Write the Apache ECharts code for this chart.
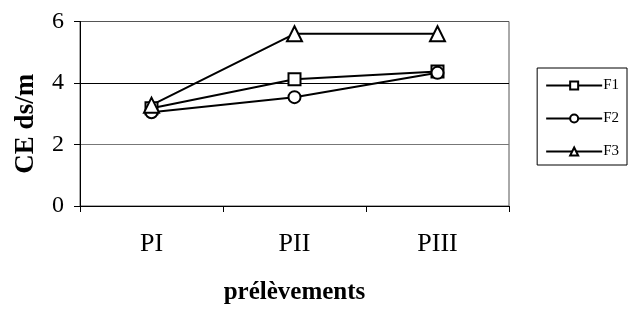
<!DOCTYPE html>
<html><head><meta charset="utf-8">
<script src="https://cdn.jsdelivr.net/npm/echarts@6/dist/echarts.min.js"></script>
<style>html,body{margin:0;padding:0;background:#fff}#c{width:633px;height:309px}</style>
</head><body><div id="c"></div>
<script>
const categories = ['PI', 'PII', 'PIII'];
const seriesNames = ['F1', 'F2', 'F3'];
const F1 = [3.18, 4.12, 4.37];
const F2 = [3.05, 3.54, 4.33];
const F3 = [3.28, 5.6, 5.6];
const yTicks = [0, 2, 4, 6];

const font = '"Liberation Serif", "Times New Roman", serif';
const chart = echarts.init(document.getElementById('c'), null, {renderer: 'canvas'});
const mk = (name, data, symbol, size) => ({
  name, type: 'line', data, symbol, symbolSize: size, showSymbol: true,
  lineStyle: {color: '#000', width: 2},
  itemStyle: {color: '#fff', borderColor: '#000', borderWidth: 2},
  emphasis: {disabled: true}, animation: false
});
chart.setOption({
  animation: false,
  grid: {left: 80, right: 124, top: 21.5, bottom: 103, show: true, borderColor: '#555', borderWidth: 1,
         containLabel: false, outerBoundsMode: 'none'},
  legend: {
    orient: 'vertical', right: 6, top: 68, width: 94,
    padding: [10, 8, 6, 8], itemGap: 18,
    borderColor: '#000', borderWidth: 1,
    itemWidth: 56, itemHeight: 10,
    textStyle: {fontFamily: font, fontSize: 15, color: '#000', padding: [0, 8, 0, -4]},
    data: seriesNames
  },
  xAxis: {
    type: 'category', data: categories, boundaryGap: true,
    name: 'prélèvements', nameLocation: 'middle', nameGap: 74,
    nameTextStyle: {fontFamily: font, fontSize: 25, fontWeight: 'bold', color: '#000'},
    axisLine: {lineStyle: {color: '#000', width: 1}},
    axisTick: {show: true, length: 6, inside: false, lineStyle: {color: '#000'}},
    axisLabel: {fontFamily: font, fontSize: 26, color: '#000', margin: 25}
  },
  yAxis: {
    type: 'value', min: 0, max: 6, interval: 2,
    name: 'CE ds/m', nameLocation: 'middle', nameGap: 40, nameRotate: 90,
    nameTextStyle: {fontFamily: font, fontSize: 27, fontWeight: 'bold', color: '#000', padding: [0, 20, 0, 0]},
    axisLine: {show: true, lineStyle: {color: '#000', width: 1}},
    axisTick: {show: true, length: 6, lineStyle: {color: '#000'}},
    axisLabel: {fontFamily: font, fontSize: 24, color: '#000', margin: 16,
      formatter: v => yTicks.includes(v) ? String(v) : ''},
    splitLine: {show: true, lineStyle: {color: ['#000', '#777', '#000', '#555'], width: 1}}
  },
  series: [
    mk('F1', F1, 'rect', 12),
    mk('F2', F2, 'circle', 12),
    mk('F3', F3, 'triangle', 15)
  ]
});
</script></body></html>
